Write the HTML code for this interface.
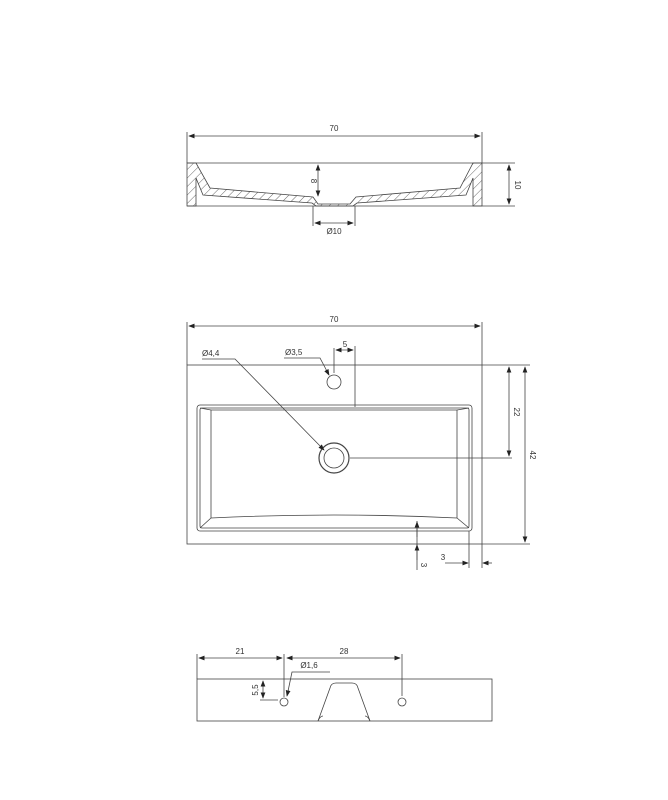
<!DOCTYPE html>
<html><head><style>body{margin:0;background:#fff}svg{display:block}text{font-family:"Liberation Sans",sans-serif;font-size:8px;fill:#333}</style></head><body>
<svg width="668" height="800" viewBox="0 0 668 800" xmlns="http://www.w3.org/2000/svg">
<defs>
<marker id="a" markerWidth="8" markerHeight="6" refX="7" refY="3" orient="auto-start-reverse"><path d="M0,0L8,3L0,6z" fill="#222"/></marker>
<pattern id="h" width="6" height="6" patternUnits="userSpaceOnUse" patternTransform="rotate(45)"><line x1="0" y1="0" x2="0" y2="6" stroke="#444" stroke-width="0.8"/></pattern>
</defs>
<g stroke="#444" stroke-width="0.8" fill="none">
<!-- SECTION VIEW -->
<line x1="187" y1="163" x2="482" y2="163"/>
<line x1="187" y1="163" x2="187" y2="132"/><line x1="482" y1="163" x2="482" y2="132"/>
<line x1="189" y1="136" x2="480" y2="136" marker-start="url(#a)" marker-end="url(#a)"/>
<path d="M187,163 L196,163 L210,188 L313,197 L318,204 L350,204 L356,197 L460,188 L473,163 L482,163 L482,206 L473,206 L473,178 L466,195 L357,203 L353,206 L316,206 L312,203 L203,195 L196,178 L196,206 L187,206 Z" fill="url(#h)"/>
<line x1="187" y1="206" x2="482" y2="206"/>
<line x1="482" y1="163" x2="515" y2="163"/><line x1="482" y1="206" x2="515" y2="206"/>
<line x1="509" y1="165" x2="509" y2="204" marker-start="url(#a)" marker-end="url(#a)"/>
<line x1="318" y1="165" x2="318" y2="196" marker-start="url(#a)" marker-end="url(#a)"/>
<line x1="313" y1="206" x2="313" y2="226"/><line x1="355" y1="206" x2="355" y2="226"/>
<line x1="315" y1="223" x2="353" y2="223" marker-start="url(#a)" marker-end="url(#a)"/>
<!-- PLAN VIEW -->
<rect x="187" y="365" width="295" height="179"/>
<line x1="187" y1="365" x2="187" y2="322"/><line x1="482" y1="365" x2="482" y2="322"/>
<line x1="189" y1="326" x2="480" y2="326" marker-start="url(#a)" marker-end="url(#a)"/>
<rect x="197" y="405" width="275" height="126" rx="3"/>
<rect x="200" y="408" width="269" height="120" rx="2"/>
<path d="M211,410 L457,410 L457,518 Q334,512 211,518 Z"/>
<line x1="200" y1="408" x2="211" y2="410"/><line x1="469" y1="408" x2="457" y2="410"/>
<line x1="200" y1="528" x2="211" y2="518"/><line x1="469" y1="528" x2="457" y2="518"/>
<circle cx="334" cy="458" r="15" stroke-width="1.2"/><circle cx="334" cy="458" r="10"/>
<circle cx="334" cy="382" r="7"/>
<line x1="334" y1="348" x2="334" y2="373"/><line x1="355" y1="346" x2="355" y2="407"/>
<line x1="336" y1="350" x2="353" y2="350" marker-start="url(#a)" marker-end="url(#a)"/>
<polyline points="284,358 320,358 329,375" marker-end="url(#a)"/>
<polyline points="202,359 235,359 324,450" marker-end="url(#a)"/>
<line x1="350" y1="458" x2="512" y2="458"/>
<line x1="482" y1="365" x2="530" y2="365"/><line x1="482" y1="544" x2="530" y2="544"/>
<line x1="509" y1="367" x2="509" y2="456" marker-start="url(#a)" marker-end="url(#a)"/>
<line x1="525" y1="367" x2="525" y2="542" marker-start="url(#a)" marker-end="url(#a)"/>
<line x1="417" y1="521" x2="417" y2="570"/>
<line x1="417" y1="537" x2="417" y2="522" marker-end="url(#a)"/>
<line x1="417" y1="560" x2="417" y2="545" marker-end="url(#a)"/>
<line x1="469" y1="531" x2="469" y2="568"/><line x1="482" y1="544" x2="482" y2="568"/>
<line x1="445" y1="563" x2="468" y2="563" marker-end="url(#a)"/>
<line x1="492" y1="563" x2="483" y2="563" marker-end="url(#a)"/>
<!-- BOTTOM VIEW -->
<rect x="197" y="679" width="295" height="42"/>
<line x1="197" y1="679" x2="197" y2="654"/><line x1="284" y1="654" x2="284" y2="697"/><line x1="402" y1="654" x2="402" y2="696"/>
<line x1="199" y1="658" x2="282" y2="658" marker-start="url(#a)" marker-end="url(#a)"/>
<line x1="287" y1="658" x2="400" y2="658" marker-start="url(#a)" marker-end="url(#a)"/>
<circle cx="284" cy="702" r="4"/><circle cx="402" cy="702" r="4"/>
<path d="M318,721 L330,688 Q331,683 336,683 L352,683 Q357,683 358,688 L370,721"/>
<path d="M318,721 Q320,716 323,716 M370,721 Q368,716 365,716"/>
<polyline points="330,672 292,672 287,696" marker-end="url(#a)"/>
<line x1="263" y1="681" x2="263" y2="698" marker-start="url(#a)" marker-end="url(#a)"/>
<line x1="260" y1="700" x2="278" y2="700"/>
</g>
<text x="334" y="131" text-anchor="middle">70</text>
<text x="0" y="0" transform="translate(515,185) rotate(90)" text-anchor="middle">10</text>
<text x="0" y="0" transform="translate(311,181) rotate(90)" text-anchor="middle">8</text>
<text x="334" y="234" text-anchor="middle">Ø10</text>
<text x="334" y="322" text-anchor="middle">70</text>
<text x="345" y="347" text-anchor="middle">5</text>
<text x="285" y="355">Ø3,5</text>
<text x="202" y="356">Ø4,4</text>
<text x="0" y="0" transform="translate(514,412) rotate(90)" text-anchor="middle">22</text>
<text x="0" y="0" transform="translate(530,455) rotate(90)" text-anchor="middle">42</text>
<text x="443" y="560" text-anchor="middle">3</text>
<text x="0" y="0" transform="translate(421,565) rotate(90)" text-anchor="middle">3</text>
<text x="240" y="654" text-anchor="middle">21</text>
<text x="344" y="654" text-anchor="middle">28</text>
<text x="309" y="668" text-anchor="middle">Ø1,6</text>
<text x="0" y="0" transform="translate(258,690) rotate(-90)" text-anchor="middle">5,5</text>
</svg>
</body></html>
